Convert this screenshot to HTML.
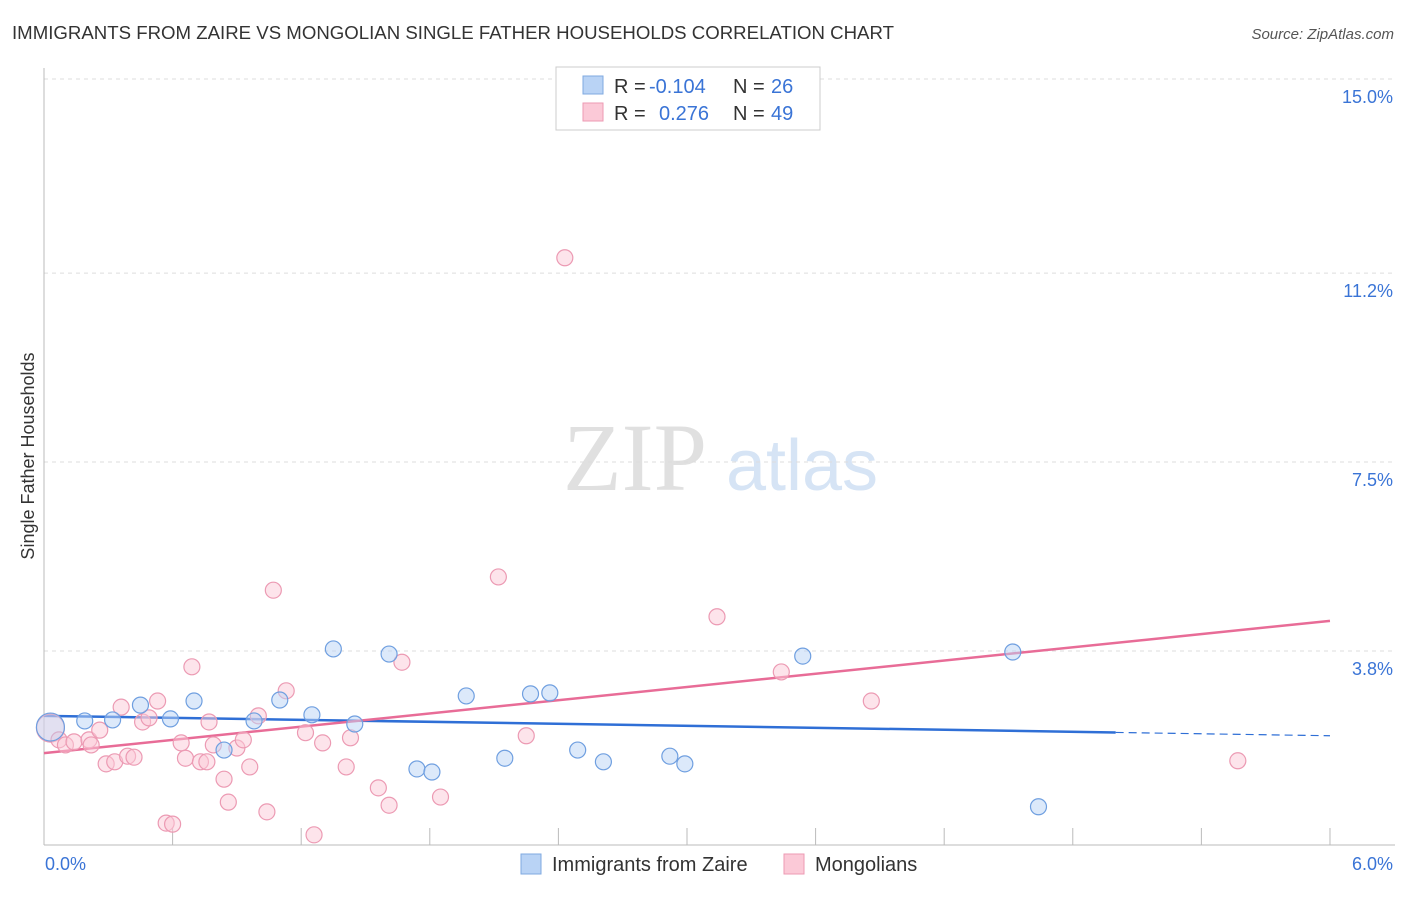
<!DOCTYPE html>
<html><head><meta charset="utf-8"><style>
body{margin:0;background:#fff;font-family:"Liberation Sans",sans-serif;}
</style></head><body>
<svg id="chart" width="1406" height="892" xmlns="http://www.w3.org/2000/svg" font-family="Liberation Sans, sans-serif">
<text x="12" y="39" font-size="18.6" fill="#333" textLength="882" lengthAdjust="spacingAndGlyphs">IMMIGRANTS FROM ZAIRE VS MONGOLIAN SINGLE FATHER HOUSEHOLDS CORRELATION CHART</text>
<text x="1394" y="39" font-size="15" fill="#555" text-anchor="end" font-style="italic">Source: ZipAtlas.com</text>
<g>
<text x="635" y="490" font-size="96" fill="#e0e0e0" text-anchor="middle" font-family="Liberation Serif, serif">ZIP</text>
<text x="802" y="490" font-size="72" fill="#d6e4f5" text-anchor="middle">atlas</text>
</g>
<g id="grid"></g>
<g id="axes"></g>
<g id="lines"></g>
<g id="points"></g>
<text transform="translate(34,456) rotate(-90)" font-size="18" fill="#333" text-anchor="middle">Single Father Households</text>
<g font-size="20">
<rect x="556" y="67" width="264" height="63" fill="#fff" stroke="#ccc"/>
<rect x="583" y="76" width="20" height="18" fill="#b9d3f5" stroke="#7fa9e0"/>
<rect x="583" y="103" width="20" height="18" fill="#fbc9d7" stroke="#ec9ab3"/>
<text x="614" y="93" fill="#333">R =</text>
<text x="649" y="93" fill="#3a74d6">-0.104</text>
<text x="733" y="93" fill="#333">N =</text>
<text x="771" y="93" fill="#3a74d6">26</text>
<text x="614" y="120" fill="#333">R =</text>
<text x="659" y="120" fill="#3a74d6">0.276</text>
<text x="733" y="120" fill="#333">N =</text>
<text x="771" y="120" fill="#3a74d6">49</text>
</g>
<g>
<rect x="521" y="854" width="20" height="20" fill="#b9d3f5" stroke="#7fa9e0"/>
<text x="552" y="871" font-size="20" fill="#333">Immigrants from Zaire</text>
<rect x="784" y="854" width="20" height="20" fill="#fbc9d7" stroke="#ec9ab3"/>
<text x="815" y="871" font-size="20" fill="#333">Mongolians</text>
</g>
</svg>
<script>
const yTicks=[15.0,11.2,7.5,3.8];
const yTickLabels=["15.0%","11.2%","7.5%","3.8%"];
const xTickVals=[0,0.6,1.2,1.8,2.4,3.0,3.6,4.2,4.8,5.4,6.0];
const blueX=[0.03,0.19,0.32,0.45,0.59,0.70,0.84,0.98,1.10,1.25,1.35,1.45,1.61,1.74,1.81,1.97,2.15,2.27,2.36,2.49,2.61,2.92,2.99,3.54,4.52,4.64];
const blueY=[2.31,2.43,2.45,2.74,2.47,2.82,1.86,2.43,2.84,2.55,3.84,2.37,3.74,1.49,1.43,2.92,1.70,2.96,2.98,1.86,1.63,1.74,1.59,3.70,3.78,0.75];
const pinkX=[0.03,0.07,0.10,0.14,0.21,0.22,0.26,0.29,0.33,0.36,0.39,0.42,0.46,0.49,0.53,0.57,0.60,0.64,0.66,0.69,0.73,0.76,0.77,0.79,0.84,0.86,0.90,0.93,0.96,1.00,1.04,1.07,1.13,1.22,1.26,1.30,1.41,1.43,1.56,1.61,1.67,1.85,2.12,2.25,2.43,3.14,3.44,3.86,5.57];
const pinkY=[2.29,2.06,1.96,2.02,2.06,1.96,2.25,1.59,1.63,2.70,1.74,1.72,2.41,2.49,2.82,0.43,0.41,2.00,1.70,3.49,1.63,1.63,2.41,1.96,1.29,0.84,1.90,2.06,1.53,2.53,0.65,4.99,3.02,2.20,0.20,2.00,1.53,2.10,1.12,0.78,3.58,0.94,5.25,2.14,11.50,4.47,3.39,2.82,1.65];
const blueTrend=[2.53,2.14];
const pinkTrend=[1.80,4.39];
const NS="http://www.w3.org/2000/svg";
const X=v=>44+v*214.33;
const Y=v=>79+(15-v)*51.07;
function mk(tag,attrs,parent){const e=document.createElementNS(NS,tag);for(const k in attrs)e.setAttribute(k,attrs[k]);document.getElementById(parent).appendChild(e);return e;}
yTicks.forEach((t,i)=>{
 let l=mk('line',{x1:44,x2:1395,y1:Y(t),y2:Y(t),stroke:'#ddd','stroke-dasharray':'4,4'},'grid');
 
 
 let tx=mk('text',{x:1393,y:Y(t)+24,'font-size':18,fill:'#3a74d6','text-anchor':'end'},'axes');
 tx.textContent=yTickLabels[i];
 
 
});
let ax=mk('line',{x1:44,x2:1395,y1:845,y2:845,stroke:'#bbb'},'axes');


let ay=mk('line',{x1:44,x2:44,y1:68,y2:845,stroke:'#bbb'},'axes');


xTickVals.forEach(v=>{
 let t=mk('line',{x1:X(v),x2:X(v),y1:828,y2:845,stroke:'#bbb'},'axes');
 
 
});
let xl=mk('text',{x:45,y:870,'font-size':18,fill:'#3a74d6'},'axes');xl.textContent='0.0%';


let xr=mk('text',{x:1393,y:870,'font-size':18,fill:'#3a74d6','text-anchor':'end'},'axes');xr.textContent='6.0%';


function drawPts(xs,ys,fill,stroke,name){
 xs.forEach((x,i)=>{
  let r=(i===0)?14:8;
  let c=mk('circle',{cx:X(x),cy:Y(ys[i]),r:r,fill:fill,'fill-opacity':(i===0)?0.4:0.5,stroke:stroke,'stroke-width':1.2},'points');
  
  
 });
}
drawPts(pinkX,pinkY,'#fbc9d7','#ec9ab3','mongolian-point');
drawPts(blueX,blueY,'#b9d3f5','#6f9fe0','zaire-point');
const bAt=v=>blueTrend[0]+(blueTrend[1]-blueTrend[0])*v/6;
let b1=mk('line',{x1:X(0),y1:Y(bAt(0)),x2:X(5),y2:Y(bAt(5)),stroke:'#2f6fd6','stroke-width':2.5},'lines');


let b2=mk('line',{x1:X(5),y1:Y(bAt(5)),x2:X(6),y2:Y(bAt(6)),stroke:'#2f6fd6','stroke-width':1.2,'stroke-dasharray':'8,5'},'lines');


let p1=mk('line',{x1:X(0),y1:Y(pinkTrend[0]),x2:X(6),y2:Y(pinkTrend[1]),stroke:'#e86c97','stroke-width':2.5},'lines');


</script>
</body></html>
